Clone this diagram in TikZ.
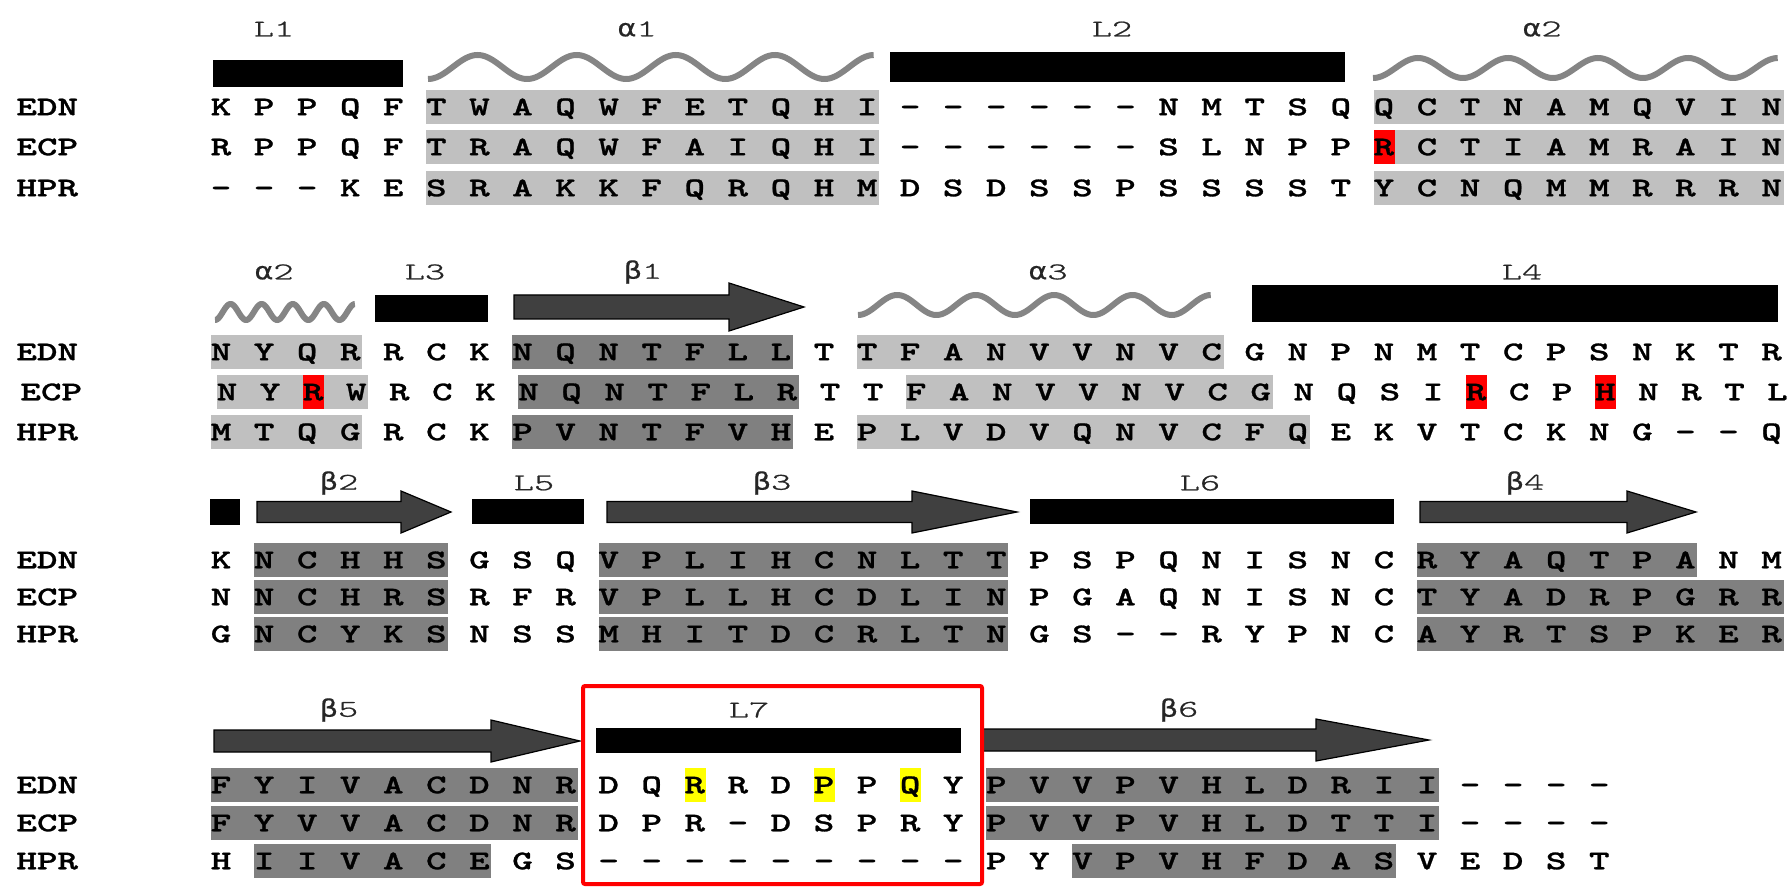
\documentclass[tikz,border=0pt]{standalone}
\usepackage{fontspec}
\newfontfamily\resf{lmmonolt10-bold}[Extension=.otf, FakeBold=1.0, FakeStretch=1.45]
\newfontfamily\labf{lmmonolt10-regular}[Extension=.otf, FakeBold=0.8, FakeStretch=1.6]
\newfontfamily\grk{DejaVu Sans}[FakeStretch=1.2, FakeBold=0.5]
\definecolor{lg}{HTML}{C0C0C0}
\definecolor{dg}{HTML}{808080}
\definecolor{hx}{HTML}{858585}
\definecolor{ar}{HTML}{404040}
\definecolor{rd}{HTML}{FF0000}
\definecolor{yl}{HTML}{FFFF00}
\tikzset{
  res/.style={font=\fontsize{13.5}{14}\selectfont\resf, inner sep=0pt, text height=8.25pt, text depth=0pt},
  rowlab/.style={res, anchor=west},
  lab/.style={font=\fontsize{12}{12}\selectfont\labf, text=black!85, inner sep=0pt},
  barbox/.style={fill=black},
  helixline/.style={draw=hx, line width=3pt},
  strand/.style={fill=ar, draw=black, line width=0.6pt, line join=miter},
}
\newcommand\seqrow[4]{%
  \foreach \c [count=\i from 0] in {#4} {
    \node[res] (#1-\i) at ({221+43.07*\i+#3}, #2) {\c};
  }}
\newcommand\seqbox[5]{%
  \fill[#1] ({221+43.07*#2-10+#5}, {#4-17}) rectangle ({221+43.07*#3+12+#5}, {#4+17});}
\newcommand\hlbox[4]{%
  \fill[#1] ({221+43.07*#2-10+#4}, {#3-17}) rectangle ({221+43.07*#2+11+#4}, {#3+17});}
\newcommand\betaarrow[6]{%
  \filldraw[strand] (#1,{#4-#5}) -- (#2,{#4-#5}) -- (#2,{#4-#6}) -- (#3,#4) -- (#2,{#4+#6}) -- (#2,{#4+#5}) -- (#1,{#4+#5}) -- cycle;}
\newcommand\ahelix[5]{%
  \draw[helixline] plot[domain=0:1, samples=300] ({#1+\x*(#2-#1)}, {#3+#4*cos(\x*#5*360)});}
\begin{document}
\begin{tikzpicture}[x=0.5pt, y=-0.5pt]
\useasboundingbox (0,0) rectangle (1791,887);
% ---------------- Block 1 ----------------
\node[lab] (tL1) at (274,29) {L1};
\node[lab] (ta1) at (637,29) {{\grk α}1};
\node[lab] (tL2) at (1112,29) {L2};
\node[lab] (ta2) at (1542,29) {{\grk α}2};
\fill[barbox] (213,60) rectangle (403,87);
\ahelix{428}{874}{67}{12}{4.5}
\fill[barbox] (890,52) rectangle (1345,82);
\ahelix{1373}{1778}{68}{10}{4.5}
\foreach \y in {107,147,188} {\seqbox{lg}{5}{15}{\y}{0}\seqbox{lg}{27}{36}{\y}{0}}
\hlbox{rd}{27}{147}{0}
\node[rowlab] (b1edn) at (16,107) {EDN};
\node[rowlab] (b1ecp) at (16,147) {ECP};
\node[rowlab] (b1hpr) at (16,188) {HPR};
\seqrow{a1}{107}{0}{K,P,P,Q,F,T,W,A,Q,W,F,E,T,Q,H,I,-,-,-,-,-,-,N,M,T,S,Q,Q,C,T,N,A,M,Q,V,I,N}
\seqrow{a2}{147}{0}{R,P,P,Q,F,T,R,A,Q,W,F,A,I,Q,H,I,-,-,-,-,-,-,S,L,N,P,P,R,C,T,I,A,M,R,A,I,N}
\seqrow{a3}{188}{0}{-,-,-,K,E,S,R,A,K,K,F,Q,R,Q,H,M,D,S,D,S,S,P,S,S,S,S,T,Y,C,N,Q,M,M,R,R,R,N}
% ---------------- Block 2 ----------------
\node[lab] (tb2a2) at (274,272) {{\grk α}2};
\node[lab] (tL3) at (425,272) {L3};
\node[lab] (tb1) at (643,272) {{\grk β}1};
\node[lab] (ta3) at (1048,272) {{\grk α}3};
\node[lab] (tL4) at (1522,272) {L4};
\ahelix{215}{355}{312}{8}{4.5}
\fill[barbox] (375,295) rectangle (488,322);
\betaarrow{514}{729}{804}{307}{12}{24}
\ahelix{858}{1211}{305}{10}{4.5}
\fill[barbox] (1252,285) rectangle (1778,322);
\seqbox{lg}{0}{3}{352}{0}\seqbox{dg}{7}{13}{352}{0}\seqbox{lg}{15}{23}{352}{0}
\seqbox{lg}{0}{3}{392}{6}\seqbox{dg}{7}{13}{392}{6}\seqbox{lg}{16}{24}{392}{6}
\seqbox{lg}{0}{3}{432}{0}\seqbox{dg}{7}{13}{432}{0}\seqbox{lg}{15}{25}{432}{0}
\hlbox{rd}{2}{392}{6}\hlbox{rd}{29}{392}{6}\hlbox{rd}{32}{392}{6}
\node[rowlab] (b2edn) at (16,352) {EDN};
\node[rowlab] (b2ecp) at (20,392) {ECP};
\node[rowlab] (b2hpr) at (16,432) {HPR};
\seqrow{b1}{352}{0}{N,Y,Q,R,R,C,K,N,Q,N,T,F,L,L,T,T,F,A,N,V,V,N,V,C,G,N,P,N,M,T,C,P,S,N,K,T,R}
\seqrow{b2}{392}{6}{N,Y,R,W,R,C,K,N,Q,N,T,F,L,R,T,T,F,A,N,V,V,N,V,C,G,N,Q,S,I,R,C,P,H,N,R,T,L}
\seqrow{b3}{432}{0}{M,T,Q,G,R,C,K,P,V,N,T,F,V,H,E,P,L,V,D,V,Q,N,V,C,F,Q,E,K,V,T,C,K,N,G,-,-,Q}
% ---------------- Block 3 ----------------
\node[lab] (tb2) at (339,483) {{\grk β}2};
\node[lab] (tL5) at (534,483) {L5};
\node[lab] (tb3) at (772,483) {{\grk β}3};
\node[lab] (tL6) at (1200,483) {L6};
\node[lab] (tb4) at (1525,483) {{\grk β}4};
\fill[barbox] (210,499) rectangle (240,525);
\betaarrow{257}{401}{451}{512}{10.5}{21}
\fill[barbox] (472,499) rectangle (584,524);
\betaarrow{607}{912}{1017}{512}{10.5}{21}
\fill[barbox] (1030,499) rectangle (1394,524);
\betaarrow{1420}{1627}{1696}{512}{10.5}{21}
\seqbox{dg}{1}{5}{560}{0}\seqbox{dg}{9}{18}{560}{0}\seqbox{dg}{28}{34}{560}{0}
\seqbox{dg}{1}{5}{597}{0}\seqbox{dg}{9}{18}{597}{0}\seqbox{dg}{28}{36}{597}{0}
\seqbox{dg}{1}{5}{634}{0}\seqbox{dg}{9}{18}{634}{0}\seqbox{dg}{28}{36}{634}{0}
\node[rowlab] (b3edn) at (16,560) {EDN};
\node[rowlab] (b3ecp) at (16,597) {ECP};
\node[rowlab] (b3hpr) at (16,634) {HPR};
\seqrow{c1}{560}{0}{K,N,C,H,H,S,G,S,Q,V,P,L,I,H,C,N,L,T,T,P,S,P,Q,N,I,S,N,C,R,Y,A,Q,T,P,A,N,M}
\seqrow{c2}{597}{0}{N,N,C,H,R,S,R,F,R,V,P,L,L,H,C,D,L,I,N,P,G,A,Q,N,I,S,N,C,T,Y,A,D,R,P,G,R,R}
\seqrow{c3}{634}{0}{G,N,C,Y,K,S,N,S,S,M,H,I,T,D,C,R,L,T,N,G,S,-,-,R,Y,P,N,C,A,Y,R,T,S,P,K,E,R}
% ---------------- Block 4 ----------------
\node[lab] (tb5) at (339,710) {{\grk β}5};
\node[lab] (tL7) at (749,710) {L7};
\node[lab] (tb6) at (1179,710) {{\grk β}6};
\betaarrow{214}{491}{580}{741}{11}{21}
\fill[barbox] (596,728) rectangle (961,753);
\betaarrow{983}{1316}{1429}{740}{11}{21}
\seqbox{dg}{0}{8}{785}{0}\seqbox{dg}{18}{28}{785}{0}
\seqbox{dg}{0}{8}{823}{0}\seqbox{dg}{18}{28}{823}{0}
\seqbox{dg}{1}{6}{861}{0}\seqbox{dg}{20}{27}{861}{0}
\hlbox{yl}{11}{785}{0}\hlbox{yl}{14}{785}{0}\hlbox{yl}{16}{785}{0}
\node[rowlab] (b4edn) at (16,785) {EDN};
\node[rowlab] (b4ecp) at (16,823) {ECP};
\node[rowlab] (b4hpr) at (16,861) {HPR};
\seqrow{d1}{785}{0}{F,Y,I,V,A,C,D,N,R,D,Q,R,R,D,P,P,Q,Y,P,V,V,P,V,H,L,D,R,I,I,-,-,-,-}
\seqrow{d2}{823}{0}{F,Y,V,V,A,C,D,N,R,D,P,R,-,D,S,P,R,Y,P,V,V,P,V,H,L,D,T,T,I,-,-,-,-}
\seqrow{d3}{861}{0}{H,I,I,V,A,C,E,G,S,-,-,-,-,-,-,-,-,-,P,Y,V,P,V,H,F,D,A,S,V,E,D,S,T}
\draw[rd, line width=2pt, rounded corners=1pt] (583,686) rectangle (982,884);
\end{tikzpicture}
\end{document}
